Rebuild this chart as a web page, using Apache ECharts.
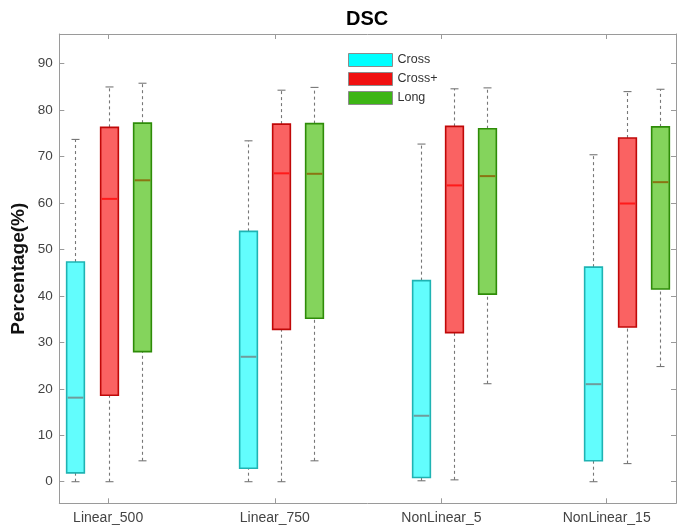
<!DOCTYPE html>
<html>
<head>
<meta charset="utf-8">
<script src="https://cdn.jsdelivr.net/npm/echarts@6/dist/echarts.min.js"></script>
<style>
html,body{margin:0;padding:0;background:#fff;}
#chart{width:683px;height:528px;}
</style>
</head>
<body>
<div id="chart"></div>
<script>
// ---- data ----
const categories = ['Linear_500', 'Linear_750', 'NonLinear_5', 'NonLinear_15'];
const categoryTickPos = [1.98, 6.98, 11.98, 16.94];
const seriesNames = ['Cross', 'Cross+', 'Long'];
const yTicks = [0, 10, 20, 30, 40, 50, 60, 70, 80, 90];

// box positions along x (one per category)
const crossPos = [1, 6.17, 11.36, 16.54];
const crossPlusPos = [2, 7.17, 12.36, 17.54];
const longPos = [3, 8.17, 13.36, 18.54];

// [min, Q1, median, Q3, max]
const crossStats = [
  [0, 1.9, 18.1, 47.3, 73.7],
  [0, 2.9, 26.9, 53.9, 73.4],
  [0.2, 0.9, 14.2, 43.3, 72.7],
  [0, 4.5, 21.0, 46.2, 70.4]
];
const crossPlusStats = [
  [0, 18.6, 60.9, 76.3, 85.0],
  [0, 32.8, 66.4, 77.0, 84.3],
  [0.4, 32.1, 63.8, 76.5, 84.6],
  [3.9, 33.3, 59.9, 74.0, 84.0]
];
const longStats = [
  [4.5, 28.0, 64.9, 77.2, 85.8],
  [4.5, 35.2, 66.3, 77.1, 84.9],
  [21.1, 40.4, 65.8, 76.0, 84.8],
  [24.8, 41.5, 64.5, 76.4, 84.5]
];

// ---- styles ----
const styles = [
  { legend: '#00ffff', fill: '#62fdfd', edge: '#1fb3b3', median: '#6f9c9c' },
  { legend: '#f01010', fill: '#fa6262', edge: '#c00808', median: '#ff1a1a' },
  { legend: '#3db515', fill: '#84d45c', edge: '#2e8c08', median: '#8a7412' }
];

const FONT = 'Liberation Sans, Arial, Helvetica, sans-serif';
const BOX_W = 0.531;
const CAP_W = 0.24;

function buildData(pos, stats) {
  return pos.map((p, i) => [p].concat(stats[i]));
}

function makeRender(st) {
  return function (params, api) {
    const x = api.value(0);
    const pMin = api.coord([x, api.value(1)]);
    const pQ1 = api.coord([x, api.value(2)]);
    const pMed = api.coord([x, api.value(3)]);
    const pQ3 = api.coord([x, api.value(4)]);
    const pMax = api.coord([x, api.value(5)]);
    const bw = api.size([BOX_W, 0])[0];
    const cw = api.size([CAP_W, 0])[0];
    const cx = Math.round(pMin[0]) + 0.5;
    const whisker = { stroke: '#777777', lineWidth: 1.1, lineDash: [3, 3] };
    const cap = { stroke: '#777777', lineWidth: 1.1 };
    return {
      type: 'group',
      children: [
        { type: 'line', shape: { x1: cx, y1: pMin[1], x2: cx, y2: pQ1[1] }, style: whisker },
        { type: 'line', shape: { x1: cx, y1: pQ3[1], x2: cx, y2: pMax[1] }, style: whisker },
        { type: 'line', shape: { x1: cx - cw / 2, y1: pMin[1], x2: cx + cw / 2, y2: pMin[1] }, style: cap },
        { type: 'line', shape: { x1: cx - cw / 2, y1: pMax[1], x2: cx + cw / 2, y2: pMax[1] }, style: cap },
        { type: 'rect', shape: { x: cx - bw / 2, y: pQ3[1], width: bw, height: pQ1[1] - pQ3[1] },
          style: { fill: st.fill, stroke: st.edge, lineWidth: 1.6 } },
        { type: 'line', shape: { x1: cx - bw / 2 + 1, y1: pMed[1], x2: cx + bw / 2 - 1, y2: pMed[1] },
          style: { stroke: st.median, lineWidth: 2 } }
      ]
    };
  };
}

const allPos = [crossPos, crossPlusPos, longPos];
const allStats = [crossStats, crossPlusStats, longStats];

const series = seriesNames.map((name, k) => ({
  name: name,
  type: 'custom',
  xAxisIndex: 0,
  yAxisIndex: 0,
  renderItem: makeRender(styles[k]),
  itemStyle: { color: styles[k].legend },
  encode: { x: 0, y: [1, 2, 3, 4, 5] },
  data: buildData(allPos[k], allStats[k])
}));

const X_MIN = 0.514, X_MAX = 19.02;
const Y_MIN = -4.65, Y_MAX = 96.4;
const axisLineStyle = { color: '#9a9a9a', width: 1 };

function nearestCat(v) {
  let best = 0, d = Infinity;
  categoryTickPos.forEach((p, i) => { if (Math.abs(p - v) < d) { d = Math.abs(p - v); best = i; } });
  return categories[best];
}

const option = {
  animation: false,
  backgroundColor: '#fff',
  title: {
    text: 'DSC',
    left: 346,
    top: 9,
    padding: 0,
    textStyle: { fontFamily: FONT, fontSize: 20, fontWeight: 'bold', color: '#000' }
  },
  legend: {
    orient: 'vertical',
    left: 348,
    top: 53,
    padding: 0,
    itemWidth: 44,
    itemHeight: 13,
    itemGap: 5,
    icon: 'rect',
    textStyle: { fontFamily: FONT, fontSize: 12.5, color: '#333' },
    data: seriesNames.map((n, k) => ({
      name: n,
      itemStyle: { color: styles[k].legend, borderColor: '#8c8c8c', borderWidth: 1 }
    }))
  },
  grid: { left: 59.3, right: 7, top: 34, bottom: 24.7, containLabel: false, outerBoundsMode: 'none' },
  xAxis: [
    {
      type: 'value', min: X_MIN, max: X_MAX, position: 'bottom',
      splitLine: { show: false },
      axisLine: { show: true, onZero: false, lineStyle: axisLineStyle },
      axisTick: { show: true, inside: true, length: 5, customValues: categoryTickPos, lineStyle: axisLineStyle },
      axisLabel: {
        show: true, customValues: categoryTickPos, margin: 8,
        formatter: v => nearestCat(v),
        fontFamily: FONT, fontSize: 14, color: '#444'
      }
    },
    {
      type: 'value', min: X_MIN, max: X_MAX, position: 'top',
      splitLine: { show: false },
      axisLine: { show: true, onZero: false, lineStyle: axisLineStyle },
      axisTick: { show: true, inside: true, length: 5, customValues: categoryTickPos, lineStyle: axisLineStyle },
      axisLabel: { show: false }
    }
  ],
  yAxis: [
    {
      type: 'value', min: Y_MIN, max: Y_MAX, position: 'left',
      name: 'Percentage(%)', nameLocation: 'middle', nameGap: 31, nameMoveOverlap: false,
      nameTextStyle: { fontFamily: FONT, fontSize: 19, fontWeight: 'bold', color: '#111' },
      splitLine: { show: false },
      axisLine: { show: true, onZero: false, lineStyle: axisLineStyle },
      axisTick: { show: true, inside: true, length: 5, customValues: yTicks, lineStyle: axisLineStyle },
      axisLabel: { show: true, customValues: yTicks, margin: 6.5, fontFamily: FONT, fontSize: 13.5, color: '#444' }
    },
    {
      type: 'value', min: Y_MIN, max: Y_MAX, position: 'right',
      splitLine: { show: false },
      axisLine: { show: true, onZero: false, lineStyle: axisLineStyle },
      axisTick: { show: true, inside: true, length: 5, customValues: yTicks, lineStyle: axisLineStyle },
      axisLabel: { show: false }
    }
  ],
  series: series
};

const chart = echarts.init(document.getElementById('chart'), null, { renderer: 'canvas' });
chart.setOption(option);
</script>
</body>
</html>
